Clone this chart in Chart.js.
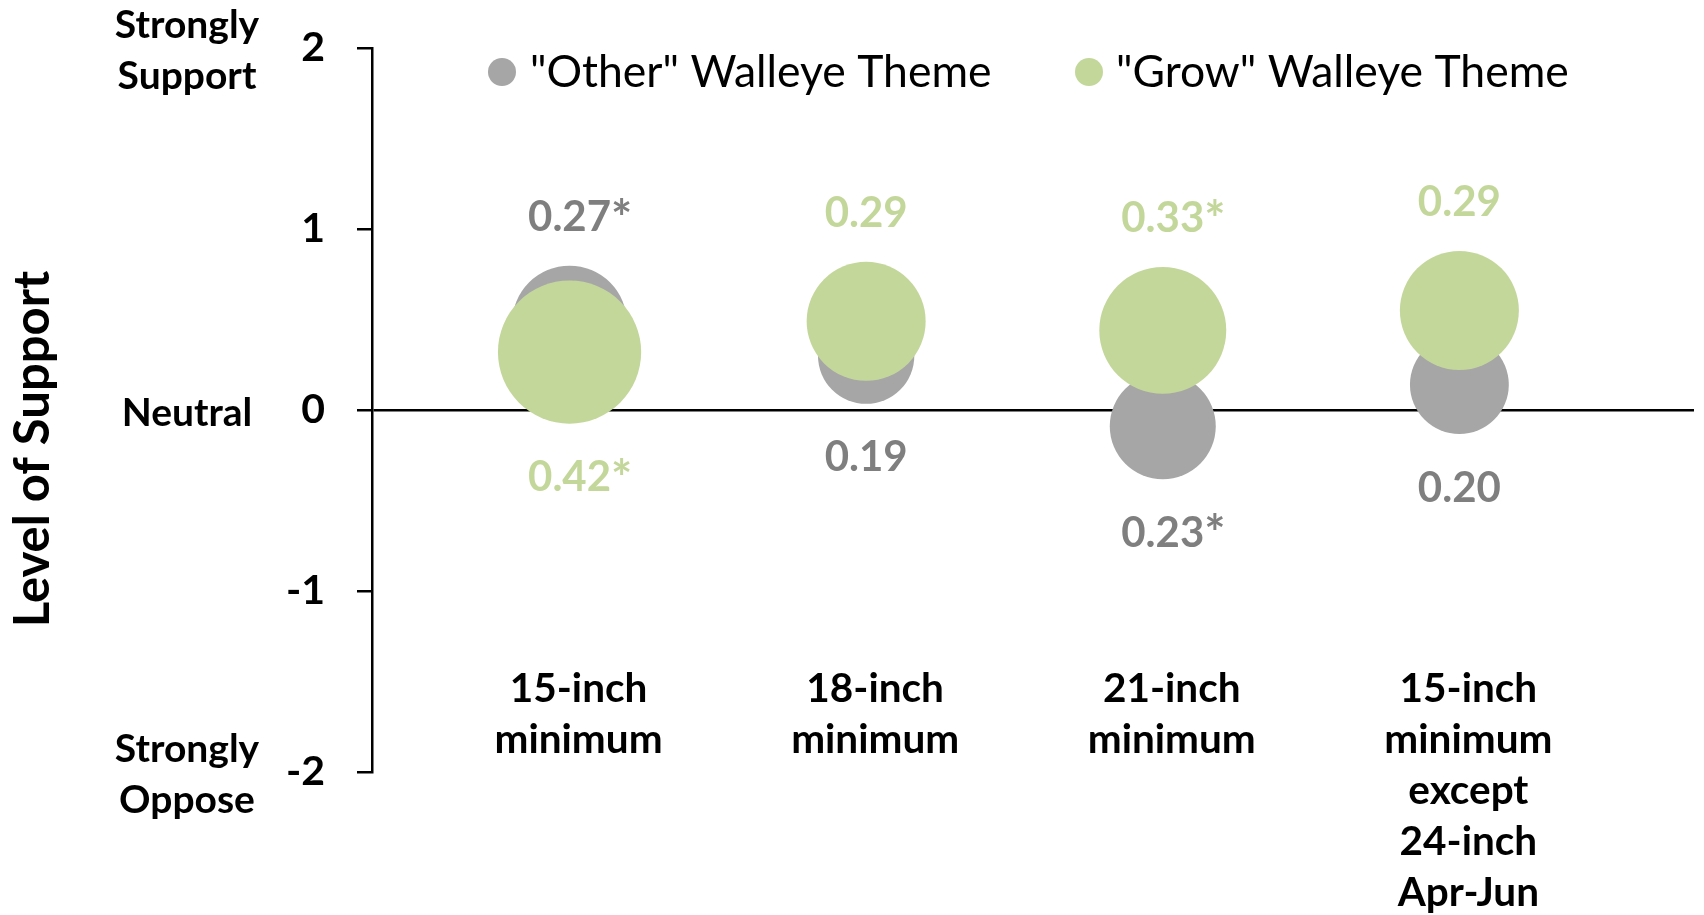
<!DOCTYPE html>
<html>
<head>
<meta charset="utf-8">
<title>Walleye regulation support</title>
<script src="https://cdn.jsdelivr.net/npm/chart.js@4.4.0/dist/chart.umd.min.js"></script>
<style>
  html, body { margin: 0; padding: 0; background: #fff; overflow: hidden; }
  #wrap { width: 1704px; height: 915px; position: relative; }
</style>
</head>
<body>
<div id="wrap"><canvas id="supportChart"></canvas></div>
<script>
// categories (x positions 1..4) and their multi-line labels
const categories = [
  ['15-inch', 'minimum'],
  ['18-inch', 'minimum'],
  ['21-inch', 'minimum'],
  ['15-inch', 'minimum', 'except', '24-inch', 'Apr-Jun']
];
const categoryX = [1, 2, 3, 4];

// mean level of support (bubble centre)
const otherMeans = [0.48, 0.30, -0.09, 0.14];
const growMeans = [0.32, 0.49, 0.44, 0.55];

// bubble size values (shown as labels)
const otherSizes = [0.27, 0.19, 0.23, 0.20];
const growSizes = [0.42, 0.29, 0.33, 0.29];

// significance markers
const otherSig = [true, false, true, false];
const growSig = [true, false, true, false];

// y axis
const yTicks = [-2, -1, 0, 1, 2];
const anchorValues = [2, 0, -2];
const anchorText = [['Strongly', 'Support'], ['Neutral'], ['Strongly', 'Oppose']];

const seriesNames = ['"Other" Walleye Theme', '"Grow" Walleye Theme'];

const GRAY = '#a6a6a6';
const GRAY_TEXT = '#7f7f7f';
const GREEN = '#c4d79b';
const FONT = 'Lato, "Open Sans", sans-serif';
const bubbleScale = 110.5; // px of radius per sqrt(size)

function points(means, sizes) {
  return categoryX.map((x, i) => ({ x: x, y: means[i], r: bubbleScale * Math.sqrt(sizes[i]) }));
}

const overlay = {
  id: 'overlay',
  afterDraw(chart) {
    const ctx = chart.ctx;
    const xs = chart.scales.x;
    const ys = chart.scales.y;
    ctx.save();

    // axis title
    ctx.save();
    ctx.translate(33, 449);
    ctx.rotate(-Math.PI / 2);
    ctx.font = 'bold 49px ' + FONT;
    ctx.fillStyle = '#000';
    ctx.textAlign = 'center';
    ctx.textBaseline = 'middle';
    ctx.fillText('Level of Support', 0, 0);
    ctx.restore();

    // Strongly support / neutral / strongly oppose
    ctx.font = 'bold 39px ' + FONT;
    ctx.fillStyle = '#000';
    ctx.textAlign = 'center';
    ctx.textBaseline = 'middle';
    anchorValues.forEach((v, i) => {
      const lines = anchorText[i];
      const yc = ys.getPixelForValue(v) + 3;
      lines.forEach((t, j) => {
        ctx.fillText(t, 187, yc + (j - (lines.length - 1) / 2) * 51);
      });
    });

    // category labels
    ctx.font = 'bold 40.5px ' + FONT;
    const top = ys.getPixelForValue(-1.54);
    categories.forEach((lines, i) => {
      const x = xs.getPixelForValue(categoryX[i]) + 9;
      lines.forEach((t, j) => ctx.fillText(t, x, top + j * 51));
    });

    // value labels: higher bubble gets its label above, lower one below
    const series = [
      { means: otherMeans, sizes: otherSizes, sig: otherSig, color: GRAY_TEXT },
      { means: growMeans, sizes: growSizes, sig: growSig, color: GREEN }
    ];
    categoryX.forEach((cx, i) => {
      const hi = otherMeans[i] >= growMeans[i] ? 0 : 1;
      series.forEach((s, k) => {
        const x = xs.getPixelForValue(cx);
        const y = ys.getPixelForValue(s.means[i]);
        const r = bubbleScale * Math.sqrt(s.sizes[i]);
        const ly = k === hi ? y - r - 48 : y + r + 54;
        const txt = s.sizes[i].toFixed(2);
        ctx.font = 'bold 42px ' + FONT;
        ctx.fillStyle = s.color;
        ctx.textAlign = 'center';
        ctx.fillText(txt, x, ly);
        if (s.sig[i]) {
          const w = ctx.measureText(txt).width;
          ctx.font = 'bold 50px ' + FONT;
          ctx.textAlign = 'left';
          ctx.fillText('*', x + w / 2, ly + 2);
        }
      });
    });

    // legend
    const legendPos = [[502, 530], [1089, 1116]];
    const legendColors = [GRAY, GREEN];
    ctx.font = '44.5px ' + FONT;
    ctx.textAlign = 'left';
    ctx.textBaseline = 'middle';
    seriesNames.forEach((name, i) => {
      ctx.fillStyle = legendColors[i];
      ctx.beginPath();
      ctx.arc(legendPos[i][0], 72, 14, 0, Math.PI * 2);
      ctx.fill();
      ctx.fillStyle = '#000';
      ctx.fillText(name, legendPos[i][1], 73);
    });

    ctx.restore();
  }
};

new Chart(document.getElementById('supportChart'), {
  type: 'bubble',
  data: {
    datasets: [
      {
        label: seriesNames[0],
        data: points(otherMeans, otherSizes),
        backgroundColor: GRAY,
        borderWidth: 0,
        order: 2
      },
      {
        label: seriesNames[1],
        data: points(growMeans, growSizes),
        backgroundColor: GREEN,
        borderWidth: 0,
        order: 1
      }
    ]
  },
  options: {
    responsive: true,
    maintainAspectRatio: false,
    animation: false,
    events: [],
    layout: { autoPadding: false, padding: { left: 0, top: 48, right: 10, bottom: 143 } },
    plugins: {
      legend: { display: false },
      tooltip: { enabled: false }
    },
    scales: {
      x: {
        type: 'linear',
        display: false,
        min: 0.334,
        max: 4.791
      },
      y: {
        min: -2,
        max: 2,
        afterBuildTicks: (scale) => { scale.ticks = yTicks.map(v => ({ value: v })); },
        afterFit: (scale) => {
          scale.width = 372;
          scale.paddingTop = 0;
          scale.paddingBottom = 0;
        },
        ticks: {
          color: '#000',
          padding: 32,
          font: { family: FONT, size: 41, weight: 'bold' }
        },
        grid: {
          drawOnChartArea: true,
          color: (c) => (c.tick && c.tick.value === 0 ? '#000' : 'rgba(0,0,0,0)'),
          lineWidth: 2.5,
          tickColor: '#000',
          tickLength: 15
        },
        border: { display: true, color: '#000', width: 2.5 }
      }
    }
  },
  plugins: [overlay]
});
</script>
</body>
</html>
